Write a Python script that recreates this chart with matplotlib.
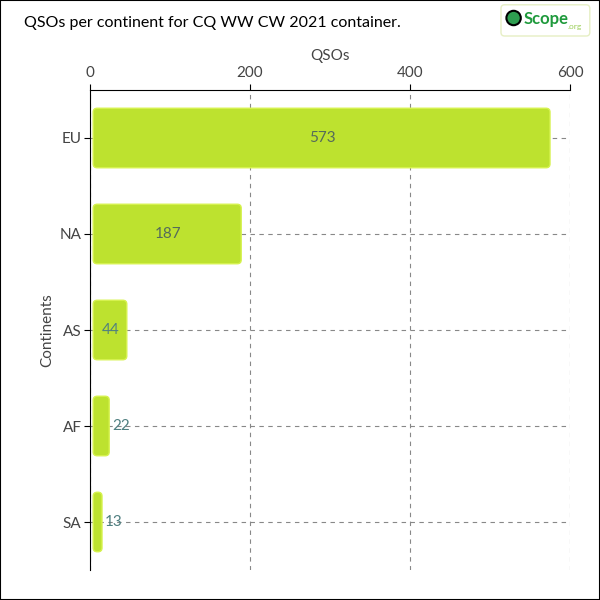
import matplotlib.pyplot as plt
from matplotlib.patches import FancyBboxPatch, Circle

continents = ['EU', 'NA', 'AS', 'AF', 'SA']
qsos = [573, 187, 44, 22, 13]
title = 'QSOs per continent for CQ WW CW 2021 container.'

bar_color = '#bde22f'
edge_color = '#d6f24e'

plt.rcParams['font.family'] = ['Lato', 'DejaVu Sans']

fig = plt.figure(figsize=(6, 6), dpi=100)
ax = fig.add_axes([0.15, 0.05, 0.80, 0.80])

ax.set_xlim(0, 600)
ax.set_ylim(4.5, -0.5)
h = 0.62
x0 = 4
for i, v in enumerate(qsos):
    p = FancyBboxPatch((x0, i - h / 2), v - x0 / 2, h,
                       boxstyle='round,pad=0,rounding_size=5',
                       mutation_aspect=0.008,
                       facecolor=bar_color, edgecolor=edge_color, lw=1, zorder=3)
    ax.add_patch(p)
    if v > 100:
        ax.text(x0 + v / 2, i, str(v), ha='center', va='center', color='#556b5a',
                fontsize=11, zorder=4)
    elif v > 30:
        ax.text(x0 + v / 2, i, str(v), ha='center', va='center', color='#4f7f80',
                fontsize=11, zorder=4)
    else:
        ax.text(x0 + v + 2, i, str(v), ha='left', va='center', color='#4f7f80',
                fontsize=11, zorder=4)

ax.set_yticks(range(len(continents)))
ax.set_yticklabels(continents)
ax.set_xticks([0, 200, 400, 600])
ax.xaxis.tick_top()
ax.xaxis.set_label_position('top')
ax.set_xlabel('QSOs', fontsize=11, color='#444444', labelpad=4)
ax.set_ylabel('Continents', fontsize=11, color='#444444', labelpad=4)
ax.tick_params(labelsize=11, labelcolor='#444444', length=4)
ax.tick_params(axis='y', pad=2)
ax.grid(True, linestyle=(0, (4, 4)), color='#888888', lw=0.8, zorder=0)
ax.spines['right'].set_visible(False)
ax.spines['bottom'].set_visible(False)

fig.text(0.04, 0.962, title, fontsize=11.5, color='black', va='center')

# logo
logo = FancyBboxPatch((0.835, 0.94), 0.148, 0.052, boxstyle='round,pad=0,rounding_size=0.006',
                      transform=fig.transFigure, facecolor='white', edgecolor='#e6efc4', lw=1)
fig.add_artist(logo)
fig.add_artist(Circle((0.856, 0.97), 0.012, transform=fig.transFigure,
                      facecolor='#2e9e50', edgecolor='black', lw=1.5))
fig.text(0.872, 0.968, 'Scope', fontsize=12, color='#1f9a3c', va='center', fontweight='bold')
fig.text(0.946, 0.956, '.org', fontsize=6, color='#9ccf5a', va='center')

fig.add_artist(plt.Rectangle((0, 0), 1, 1, transform=fig.transFigure, fill=False,
                             edgecolor='black', lw=1.5))

fig.savefig('out.png', dpi=100)
